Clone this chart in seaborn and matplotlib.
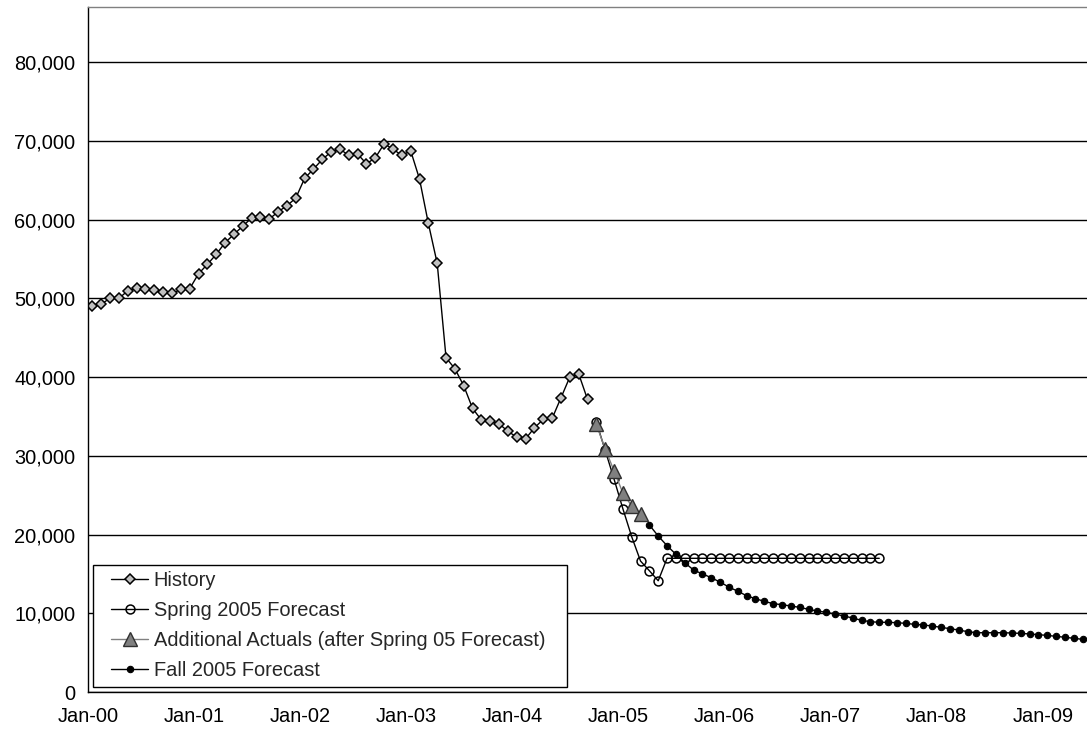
import matplotlib
matplotlib.use("Agg")
import matplotlib.pyplot as plt
import seaborn as sns
import pandas as pd
from matplotlib.ticker import FuncFormatter
from matplotlib.lines import Line2D
from matplotlib.legend_handler import HandlerLine2D

# ---------------- data (month index 0 = Jan-00) ----------------
history_months = list(range(0, 57))
history_values = [
    49000, 49230, 50050, 50000, 50960, 51260, 51170, 51050, 50750, 50620,
    51130, 51220, 53120, 54310, 55580, 57060, 58120, 59170, 60200, 60280,
    60060, 60990, 61760, 62730, 65230, 66410, 67640, 68610, 68950, 68150,
    68320, 67090, 67850, 69630, 68950, 68150, 68740, 65140, 59510, 54440,
    42450, 41060, 38900, 36020, 34540, 34450, 34070, 33100, 32380, 32170,
    33560, 34630, 34750, 37370, 40000, 40420, 37170,
]

spring_months = list(range(57, 90))
spring_values = [
    34290, 30700, 27050, 23280, 19720, 16630, 15400, 14130,
    16980, 16980, 16980, 16980, 16980, 16980, 16980, 16980, 16980, 16980,
    16980, 16980, 16980, 16980, 16980, 16980, 16980, 16980, 16980, 16980,
    16980, 16980, 16980, 16980, 16980,
]

actual_months = list(range(57, 63))
actual_values = [33990, 30860, 28100, 25270, 23620, 22600]

fall_months = list(range(63, 113))
fall_values = [
    21210, 19810, 18580, 17490, 16420, 15490, 15000, 14520, 13950, 13330,
    12790, 12230, 11850, 11510, 11220, 11090, 10920, 10750, 10500, 10290,
    10120, 9900, 9650, 9400, 9100, 8930, 8850, 8850, 8800, 8720,
    8590, 8510, 8380, 8210, 8040, 7870, 7660, 7530, 7530, 7530,
    7530, 7490, 7450, 7370, 7280, 7190, 7070, 6950, 6820, 6690,
]

tick_months = [0, 12, 24, 36, 48, 60, 72, 84, 96, 108]
tick_labels = ["Jan-00", "Jan-01", "Jan-02", "Jan-03", "Jan-04",
               "Jan-05", "Jan-06", "Jan-07", "Jan-08", "Jan-09"]
y_ticks = [0, 10000, 20000, 30000, 40000, 50000, 60000, 70000, 80000]

# ---------------- style ----------------
sns.set_style("white")
plt.rcParams["font.family"] = ["Liberation Sans", "DejaVu Sans"]
FS = 14.4

fig = plt.figure(figsize=(10.87, 7.36), dpi=100)
ax = fig.add_axes([88 / 1087, 1 - 692 / 736, 1 - 88 / 1087, (692 - 7) / 736])

def df_of(months, values):
    # Excel date axis places points between tick marks (mid-month)
    return pd.DataFrame({"x": [m + 0.5 for m in months], "y": values})

sns.lineplot(data=df_of(history_months, history_values), x="x", y="y", ax=ax,
             color="black", lw=1.0, marker="D", markersize=5.5,
             markerfacecolor="#c0c0c0", markeredgecolor="black",
             markeredgewidth=1.1, label="History")
sns.lineplot(data=df_of(spring_months, spring_values), x="x", y="y", ax=ax,
             color="black", lw=1.0, marker="o", markersize=6.4,
             markerfacecolor="none", markeredgecolor="black",
             markeredgewidth=1.1, label="Spring 2005 Forecast")
sns.lineplot(data=df_of(actual_months, actual_values), x="x", y="y", ax=ax,
             color="#808080", lw=1.0, marker="^", markersize=9.5,
             markerfacecolor="#808080", markeredgecolor="#303030",
             markeredgewidth=1.0, label="Additional Actuals (after Spring 05 Forecast)")
sns.lineplot(data=df_of(fall_months, fall_values), x="x", y="y", ax=ax,
             color="black", lw=1.0, marker="o", markersize=4.6,
             markerfacecolor="black", markeredgecolor="black",
             markeredgewidth=0.8, label="Fall 2005 Forecast")

ax.set_xlim(0, 113.0)
ax.set_ylim(0, 87000)
ax.set_xticks(tick_months)
ax.set_xticklabels(tick_labels)
ax.set_yticks(y_ticks)
ax.yaxis.set_major_formatter(FuncFormatter(lambda v, p: f"{int(v):,}"))
ax.set_xlabel("")
ax.set_ylabel("")

ax.grid(axis="y", color="black", lw=1.0)
ax.grid(axis="x", visible=False)
ax.set_axisbelow(True)

for s in ["left", "bottom"]:
    ax.spines[s].set_color("black")
    ax.spines[s].set_linewidth(1.0)
ax.spines["top"].set_color("#808080")
ax.spines["top"].set_linewidth(1.0)
ax.spines["right"].set_visible(False)

ax.tick_params(axis="both", which="major", direction="out", length=5,
               width=1.0, color="black", labelsize=FS, labelcolor="black")
ax.tick_params(axis="x", pad=6)
ax.tick_params(axis="y", pad=4)

# legend box: x 93..567 px, y 561..687 px (in figure pixels)
ax_w, ax_h = 1087 - 88, 692 - 7
bx0 = (93.3 - 88) / ax_w
by0 = (692 - 687) / ax_h
bw = (567 - 93.3) / ax_w
bh = (687 - 561) / ax_h
leg = ax.legend(loc="lower left", bbox_to_anchor=(bx0, by0, bw, bh),
                mode="expand", borderaxespad=0, frameon=True, fancybox=False,
                shadow=False, fontsize=FS, handlelength=2.4, handletextpad=0.28,
                labelspacing=0.55, borderpad=0.33,
                handler_map={Line2D: HandlerLine2D(xpad=0.57)})
leg.get_frame().set_edgecolor("black")
leg.get_frame().set_linewidth(1.0)
leg.get_frame().set_facecolor("white")
leg.get_frame().set_alpha(1.0)

fig.savefig("out.png", dpi=100)
